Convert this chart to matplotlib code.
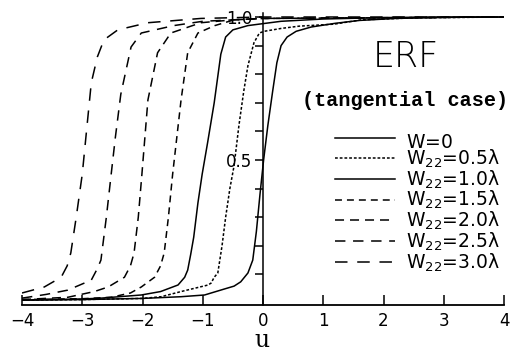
import matplotlib
matplotlib.use("Agg")
import matplotlib.pyplot as plt

# ---- data ----
u_w00 = [-4.0, -3.0, -2.0, -1.36, -0.97, -0.64, -0.48, -0.37, -0.25, -0.17, -0.11, -0.05, 0.01, 0.08, 0.16, 0.23, 0.3, 0.4, 0.55, 0.8, 1.2, 1.6, 2.2, 3.0, 4.0]
y_w00 = [0.010, 0.012, 0.016, 0.022, 0.028, 0.049, 0.059, 0.074, 0.105, 0.15, 0.25, 0.38, 0.50, 0.62, 0.74, 0.84, 0.90, 0.93, 0.95, 0.965, 0.978, 0.988, 0.995, 0.999, 1.0]

u_w05 = [-4.0, -3.0, -2.0, -1.69, -1.36, -0.91, -0.86, -0.81, -0.75, -0.68, -0.62, -0.55, -0.48, -0.40, -0.32, -0.25, -0.15, -0.06, 0.02, 0.3, 0.6, 1.18, 1.63, 2.5, 4.0]
y_w05 = [0.010, 0.012, 0.016, 0.022, 0.040, 0.063, 0.070, 0.090, 0.105, 0.20, 0.30, 0.40, 0.48, 0.62, 0.74, 0.83, 0.91, 0.944, 0.95, 0.96, 0.968, 0.975, 0.99, 0.997, 1.0]

u_w10 = [-4.0, -3.0, -2.69, -2.02, -1.7, -1.41, -1.3, -1.25, -1.2, -1.15, -1.08, -1.01, -0.92, -0.81, -0.70, -0.62, -0.50, -0.25, 0.3, 1.0, 2.0, 4.0]
y_w10 = [0.010, 0.014, 0.017, 0.028, 0.040, 0.063, 0.09, 0.115, 0.17, 0.23, 0.35, 0.45, 0.56, 0.70, 0.87, 0.93, 0.955, 0.97, 0.985, 0.993, 0.998, 1.0]

u_w15 = [-4.0, -3.0, -2.52, -2.2, -2.02, -1.8, -1.7, -1.64, -1.57, -1.5, -1.43, -1.36, -1.25, -1.08, -0.8, -0.48, 0.0, 4.0]
y_w15 = [0.012, 0.015, 0.020, 0.035, 0.056, 0.09, 0.13, 0.175, 0.30, 0.45, 0.58, 0.71, 0.875, 0.944, 0.97, 0.99, 0.995, 1.0]

u_w20 = [-4.0, -3.24, -2.8, -2.57, -2.3, -2.2, -2.14, -2.07, -2.01, -1.96, -1.91, -1.75, -1.53, -1.03, -0.5, 0.0, 4.0]
y_w20 = [0.012, 0.020, 0.040, 0.056, 0.09, 0.13, 0.175, 0.30, 0.45, 0.58, 0.71, 0.875, 0.944, 0.98, 0.99, 0.995, 1.0]

u_w25 = [-4.0, -3.6, -3.24, -2.85, -2.75, -2.69, -2.6, -2.52, -2.45, -2.36, -2.19, -2.02, -1.48, -1.0, 0.0, 4.0]
y_w25 = [0.017, 0.030, 0.045, 0.08, 0.12, 0.15, 0.30, 0.45, 0.58, 0.73, 0.895, 0.944, 0.97, 0.985, 0.995, 1.0]

u_w30 = [-4.0, -3.63, -3.35, -3.25, -3.19, -3.1, -3.0, -2.93, -2.85, -2.75, -2.64, -2.41, -1.91, -1.03, 0.0, 4.0]
y_w30 = [0.035, 0.056, 0.09, 0.13, 0.175, 0.30, 0.45, 0.60, 0.77, 0.86, 0.92, 0.955, 0.98, 0.995, 1.0, 1.0]

labels = ["W=0$_{\\,}$", "W$_{22}$=0.5λ", "W$_{22}$=1.0λ", "W$_{22}$=1.5λ",
          "W$_{22}$=2.0λ", "W$_{22}$=2.5λ", "W$_{22}$=3.0λ"]
x_ticks = [-4, -3, -2, -1, 0, 1, 2, 3, 4]
y_ticks = [0.1, 0.2, 0.3, 0.4, 0.5, 0.6, 0.7, 0.8, 0.9, 1.0]
y_ticklabels = ["", "", "", "", "0.5", "", "", "", "", "1.0"]

series = [(u_w00, y_w00), (u_w05, y_w05), (u_w10, y_w10), (u_w15, y_w15),
          (u_w20, y_w20), (u_w25, y_w25), (u_w30, y_w30)]

# ---- styles ----
lw = 1.1
styles = [
    dict(linestyle="-"),
    dict(dashes=(2.0 / lw, 1.4 / lw)),
    dict(linestyle="-"),
    dict(dashes=(5.0 / lw, 3.6 / lw)),
    dict(dashes=(6.5 / lw, 4.3 / lw)),
    dict(dashes=(7.5 / lw, 5.5 / lw)),
    dict(dashes=(9.0 / lw, 7.0 / lw)),
]

W, H = 516, 356
fig = plt.figure(figsize=(W / 100, H / 100), dpi=100)
ax = fig.add_axes([22 / W, 51 / H, 482 / W, (305 - 13) / H])

handles = []
for (u, y), st, lab in zip(series, styles, labels):
    ln, = ax.plot(u, y, color="black", lw=lw, label=lab, **st)
    handles.append(ln)

ax.set_xlim(-4, 4)
ax.set_ylim(-0.007, 1.014)

for s in ["top", "right"]:
    ax.spines[s].set_visible(False)
ax.spines["left"].set_position(("data", 0))
ax.spines["left"].set_linewidth(1.1)
ax.spines["bottom"].set_linewidth(1.3)

ax.set_xticks(x_ticks)
ax.set_xticklabels([f"{t}".replace("-", "\u2212") for t in x_ticks])
ax.set_yticks(y_ticks)
ax.set_yticklabels(y_ticklabels)
ax.tick_params(axis="x", direction="in", length=7, width=1.1, pad=5, labelsize=12)
ax.tick_params(axis="y", direction="out", length=5.5, width=1.1, pad=2, labelsize=12)

fig.text(262 / W, 1 - 347 / H, "u", ha="center", va="baseline",
         fontsize=17, family="DejaVu Serif")

fig.text(406 / W, 1 - 67 / H, "ERF", ha="center", va="baseline", fontsize=25,
         family="DejaVu Sans", fontweight="light")
fig.text(405 / W, 1 - 106 / H, "(tangential case)", ha="center", va="baseline",
         fontsize=14.5, family="Liberation Mono", fontweight="bold")

leg = ax.legend(handles=handles, labels=labels, loc="upper left",
                bbox_to_anchor=(335 / W, 1 - 130 / H), bbox_transform=fig.transFigure,
                frameon=False, borderpad=0, borderaxespad=0,
                handlelength=3.2, handletextpad=0.6, labelspacing=-0.08,
                prop=dict(family="DejaVu Sans", size=13.5))

fig.savefig("out.png", dpi=100)
